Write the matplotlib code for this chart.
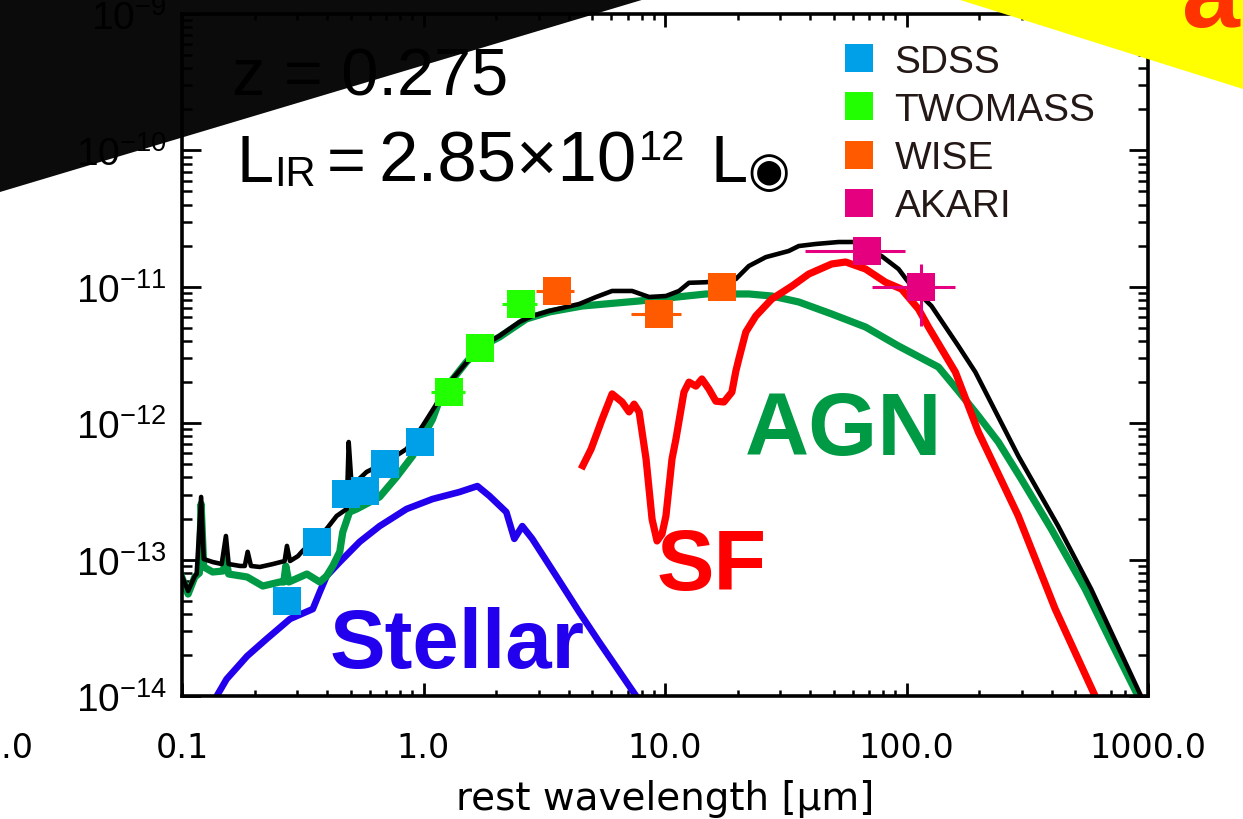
import numpy as np
import matplotlib
matplotlib.use('Agg')
import matplotlib.pyplot as plt
from matplotlib.lines import Line2D
from matplotlib.patches import Polygon
from matplotlib.ticker import FixedLocator, FixedFormatter, LogLocator, NullFormatter, FuncFormatter

plt.rcParams['mathtext.fontset'] = 'custom'
plt.rcParams['mathtext.rm'] = 'Liberation Sans'
plt.rcParams['mathtext.it'] = 'Liberation Sans:italic'
plt.rcParams['mathtext.bf'] = 'Liberation Sans:bold'

# ---------------- data (rest wavelength [um], flux) ----------------
total_lam = [0.098, 0.106, 0.113, 0.115, 0.120, 0.123, 0.134, 0.146, 0.152, 0.156,
             0.174, 0.182, 0.187, 0.193, 0.210, 0.238, 0.266, 0.272, 0.280, 0.302,
             0.316, 0.397, 0.437, 0.481, 0.490, 0.504, 0.581, 0.703, 0.851, 0.991,
             1.165, 1.318, 1.549, 1.753, 2.061, 2.493, 2.821, 3.317, 4.413, 5.186,
             6.039, 7.307, 8.590, 10.09, 11.43, 12.57, 14.77, 19.65, 22.24, 26.15,
             32.54, 35.79, 42.07, 52.36, 60.39, 78.84, 92.67, 104.9, 126.9, 164.0,
             192.8, 290.3, 424.7, 581.4, 935.7]
total_flux = [8.25e-14, 5.89e-14, 7.58e-14, 7.84e-14, 2.88e-13, 1.01e-13, 9.60e-14, 9.28e-14, 1.49e-13, 9.28e-14,
              8.98e-14, 8.98e-14, 1.14e-13, 8.98e-14, 8.83e-14, 9.28e-14, 9.76e-14, 1.26e-13, 9.76e-14, 1.06e-13,
              1.16e-13, 1.68e-13, 2.09e-13, 2.35e-13, 7.28e-13, 3.46e-13, 4.39e-13, 5.20e-13, 6.47e-13, 9.54e-13,
              1.50e-12, 2.11e-12, 2.96e-12, 3.68e-12, 4.36e-12, 5.52e-12, 6.11e-12, 6.65e-12, 7.48e-12, 8.42e-12,
              9.32e-12, 9.32e-12, 8.42e-12, 8.56e-12, 9.32e-12, 1.07e-11, 1.08e-11, 1.14e-11, 1.42e-11, 1.65e-11,
              1.83e-11, 1.99e-11, 2.06e-11, 2.13e-11, 2.13e-11, 1.68e-11, 1.35e-11, 1.01e-11, 7.23e-12, 3.68e-12,
              2.37e-12, 5.75e-13, 1.76e-13, 6.09e-14, 1.0e-14]

agn_lam = [0.098, 0.106, 0.113, 0.118, 0.120, 0.123, 0.134, 0.148, 0.152, 0.156,
           0.186, 0.216, 0.254, 0.264, 0.269, 0.277, 0.329, 0.372, 0.397, 0.421,
           0.450, 0.463, 0.494, 0.529, 0.658, 0.773, 0.901, 1.09, 1.198, 1.506,
           1.753, 2.061, 2.665, 3.317, 4.540, 7.812, 14.77, 22.24, 27.68, 35.79,
           48.98, 67.70, 92.67, 135.6, 164.0, 198.4, 240.0, 298.7, 397.4, 549.2,
           703.4, 909.5]
agn_flux = [8.11e-14, 5.59e-14, 7.46e-14, 7.97e-14, 2.56e-13, 8.83e-14, 8.11e-14, 8.25e-14, 1.01e-13, 7.84e-14,
            7.46e-14, 6.40e-14, 6.85e-14, 6.85e-14, 8.98e-14, 6.85e-14, 7.84e-14, 6.85e-14, 7.58e-14, 8.98e-14,
            1.14e-13, 1.59e-13, 2.23e-13, 2.35e-13, 2.88e-13, 4.03e-13, 5.75e-13, 1.07e-12, 1.69e-12, 2.81e-12,
            3.68e-12, 4.28e-12, 5.81e-12, 6.54e-12, 7.23e-12, 7.87e-12, 8.86e-12, 8.86e-12, 8.56e-12, 7.74e-12,
            6.32e-12, 5.07e-12, 3.68e-12, 2.58e-12, 1.72e-12, 1.13e-12, 7.28e-13, 3.90e-13, 1.68e-13, 6.09e-14,
            2.49e-14, 1.0e-14]

sf_lam = [4.498, 4.945, 5.492, 6.039, 6.643, 7.101, 7.448, 7.812, 8.348, 8.839,
          9.268, 9.718, 10.09, 10.69, 11.10, 11.98, 12.57, 13.43, 14.22, 15.20,
          16.24, 17.53, 18.92, 19.65, 20.22, 21.61, 23.77, 27.68, 33.49, 39.36,
          48.98, 55.97, 67.70, 81.89, 95.36, 112.1, 123.3, 159.4, 198.4, 290.3,
          412.8, 603.9]
sf_flux = [4.62e-13, 6.47e-13, 1.07e-12, 1.64e-12, 1.43e-12, 1.21e-12, 1.38e-12, 1.21e-12, 5.46e-13, 1.98e-13,
           1.37e-13, 1.54e-13, 2.09e-13, 5.46e-13, 7.66e-13, 1.69e-12, 2.00e-12, 1.87e-12, 2.11e-12, 1.78e-12,
           1.45e-12, 1.43e-12, 1.69e-12, 2.41e-12, 2.96e-12, 4.66e-12, 6.11e-12, 8.14e-12, 1.01e-11, 1.24e-11,
           1.47e-11, 1.52e-11, 1.35e-11, 1.08e-11, 9.63e-12, 6.87e-12, 5.07e-12, 2.37e-12, 8.62e-13, 2.09e-13,
           4.34e-14, 1.0e-14]

stellar_lam = [0.137, 0.153, 0.186, 0.224, 0.280, 0.348, 0.372, 0.397, 0.450, 0.544,
               0.658, 0.851, 1.09, 1.409, 1.672, 1.874, 2.203, 2.377, 2.565, 2.821,
               3.545, 4.413, 5.337, 7.591]
stellar_flux = [9.5e-15, 1.33e-14, 1.96e-14, 2.62e-14, 3.67e-14, 4.34e-14, 5.79e-14, 7.58e-14, 9.60e-14, 1.35e-13,
                1.76e-13, 2.35e-13, 2.78e-13, 3.13e-13, 3.46e-13, 2.93e-13, 2.23e-13, 1.42e-13, 1.76e-13, 1.42e-13,
                7.58e-14, 4.13e-14, 2.49e-14, 1.0e-14]

sdss_lam = [0.272, 0.361, 0.476, 0.571, 0.690, 0.963]
sdss_flux = [4.97e-14, 1.35e-13, 3.03e-13, 3.18e-13, 5.02e-13, 7.28e-13]

twomass_lam = [1.281, 1.720, 2.541]
twomass_flux = [1.69e-12, 3.56e-12, 7.48e-12]
twomass_xerr = [0.21, 0.0, 0.42]

wise_lam = [3.56, 9.45, 17.2]
wise_flux = [9.25e-12, 6.32e-12, 9.97e-12]
wise_xerr = [0.64, 2.2, 0.0]

akari_lam = [68.4, 115.3]
akari_flux = [1.83e-11, 9.97e-12]
akari_xerr = [30.5, 43.0]
akari_yerr = [0.0, 4.8e-12]

survey_names = ['SDSS', 'TWOMASS', 'WISE', 'AKARI']
survey_colors = ['#00a0e9', '#22ff00', '#ff5a00', '#e4007f']

x_ticks = [0.1, 1.0, 10.0, 100.0, 1000.0]
x_ticklabels = ['0.1', '1.0', '10.0', '100.0', '1000.0']
y_ticks = [1e-14, 1e-13, 1e-12, 1e-11, 1e-10, 1e-9]

# ---------------- figure ----------------
W, H = 1243, 820
fig = plt.figure(figsize=(W / 100, H / 100), dpi=100)
fig.patch.set_facecolor('white')


def fp(x, y):
    return (x / W, 1 - y / H)


# dark overlay at top-left (behind the plot)
fig.add_artist(Polygon([fp(0, 0), fp(645, 0), fp(0, 193)], closed=True,
                       transform=fig.transFigure, facecolor='#0b0b0b',
                       edgecolor='none', zorder=-5))

ax = fig.add_axes([182 / W, 1 - 697 / H, (1148 - 182) / W, (697 - 15) / H])
ax.set_facecolor('none')
ax.set_xscale('log')
ax.set_yscale('log')
ax.set_xlim(0.1, 1000)
ax.set_ylim(1e-14, 1e-9)

ax.plot(stellar_lam, stellar_flux, color='#2200ee', lw=4.8, zorder=2)
ax.plot(agn_lam, agn_flux, color='#009944', lw=5.2, zorder=2.1)
ax.plot(sf_lam, sf_flux, color='#ff0000', lw=5.2, zorder=2.2, solid_capstyle='butt')
ax.plot(total_lam, total_flux, color='black', lw=3.3, zorder=2.3)

ebkw = dict(fmt='s', ms=19.5, mew=0, elinewidth=2.2, capsize=4.8, capthick=2.2, zorder=4)
ax.errorbar(sdss_lam, sdss_flux, color=survey_colors[0], **ebkw)
ax.errorbar(twomass_lam, twomass_flux, xerr=twomass_xerr, color=survey_colors[1], **ebkw)
ax.errorbar(wise_lam, wise_flux, xerr=wise_xerr, color=survey_colors[2], **ebkw)
ax.errorbar(akari_lam, akari_flux, xerr=akari_xerr, yerr=akari_yerr, color=survey_colors[3], **ebkw)

# axes styling
for s in ax.spines.values():
    s.set_linewidth(2.6)
ax.xaxis.set_major_locator(FixedLocator(x_ticks))
ax.xaxis.set_major_formatter(FixedFormatter(x_ticklabels))
ax.xaxis.set_minor_locator(LogLocator(base=10, subs=np.arange(2, 10), numticks=100))
ax.xaxis.set_minor_formatter(NullFormatter())
ax.yaxis.set_major_locator(FixedLocator(y_ticks))
ax.yaxis.set_major_formatter(FuncFormatter(
    lambda v, p: r'$\mathregular{10^{%d}}$' % int(round(np.log10(v)))))
ax.yaxis.set_minor_locator(LogLocator(base=10, subs=np.arange(2, 10), numticks=100))
ax.yaxis.set_minor_formatter(NullFormatter())

ax.tick_params(axis='both', which='both', direction='in', top=True, right=True, colors='black')
ax.tick_params(axis='x', which='major', length=9.5, width=2.0, pad=25, labelsize=24)
ax.tick_params(axis='x', which='minor', length=4.5, width=1.8)
ax.tick_params(axis='y', which='major', length=14, width=2.0, pad=11, labelsize=28,
               labelfontfamily='Liberation Sans')
ax.tick_params(axis='y', which='minor', length=7, width=1.8)

ax.set_xlabel('rest wavelength [μm]', fontsize=28, family='DejaVu Sans')
ax.xaxis.set_label_coords(0.5, -0.1217)

# legend
handles = [Line2D([], [], ls='none', marker='s', ms=20, mew=0, color=c) for c in survey_colors]
leg = ax.legend(handles, survey_names, loc='upper left', bbox_to_anchor=(0.6868, 0.956),
                frameon=False, prop={'family': 'Liberation Sans', 'size': 28},
                handlelength=0.7, handletextpad=0.56, labelspacing=0.31,
                borderpad=0, borderaxespad=0)
for t in leg.get_texts():
    t.set_color('#231815')

# annotations
big = dict(family='Liberation Sans', va='baseline', ha='left', color='black')
fig.text(*fp(232, 96), 'z = 0.275', fontsize=48, **big)
fig.text(*fp(237, 182), 'L', fontsize=48, **big)
fig.text(*fp(274, 186), 'IR', fontsize=30, **big)
fig.text(*fp(327, 182), '=', fontsize=48, **big)
fig.text(*fp(378, 182), '2.85×10', fontsize=51, **big)
fig.text(*fp(639, 160), '12', fontsize=30, **big)
fig.text(*fp(710, 182), 'L', fontsize=48, **big)
fig.text(*fp(769, 186), '◉', fontsize=35, family='DejaVu Sans', ha='center', va='baseline')

lab = dict(family='Liberation Sans', fontweight='bold', va='baseline', ha='left')
fig.text(*fp(745, 455), 'AGN', fontsize=64, color='#009944', **lab)
fig.text(*fp(657, 590), 'SF', fontsize=62, color='#ff0000', **lab)
fig.text(*fp(330, 668), 'Stellar', fontsize=60, color='#2200ee', **lab)

# clipped label from neighbouring panel
fig.text(*fp(33, 758), '1000.0', fontsize=24, family='DejaVu Sans', ha='right', va='baseline')

# yellow overlay at top-right
fig.add_artist(Polygon([fp(957, 0), fp(1243, 0), fp(1243, 90)], closed=True,
                       transform=fig.transFigure, facecolor='#ffff00',
                       edgecolor='none', zorder=10))
fig.text(*fp(1182, 27), 'a', fontsize=75, fontweight='bold', color='#ff3300',
         family='Liberation Sans', va='baseline', ha='left', zorder=11)

fig.savefig('out.png', dpi=100, facecolor='white')
